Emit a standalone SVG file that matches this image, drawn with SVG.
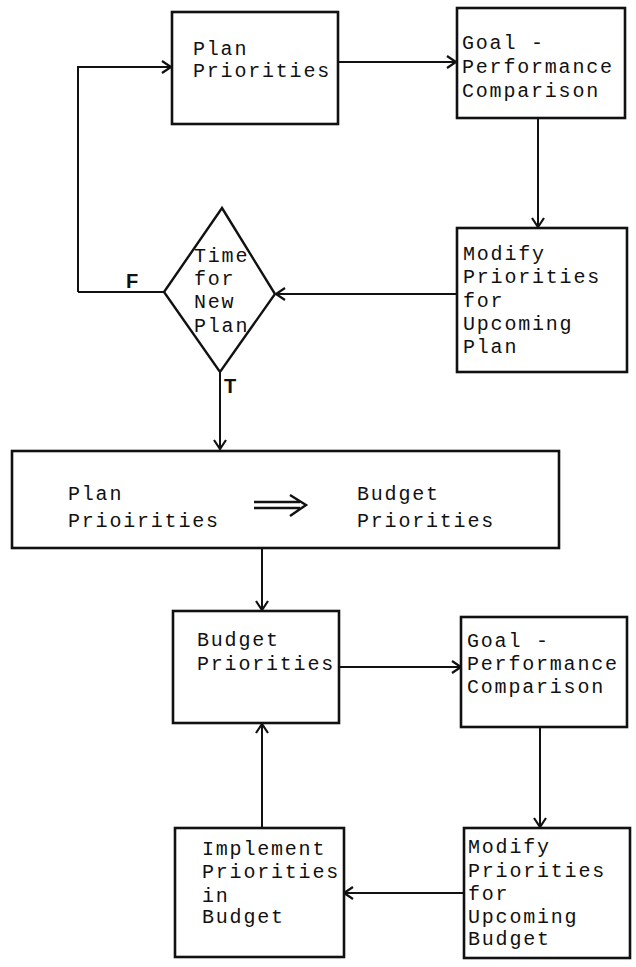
<svg xmlns="http://www.w3.org/2000/svg" width="636" height="967" viewBox="0 0 636 967">
<defs>
<marker id="arr" markerWidth="14" markerHeight="14" viewBox="0 0 14 14" refX="12" refY="7" orient="auto" markerUnits="userSpaceOnUse">
<path d="M3,1 L12,7 L3,13" fill="none" stroke="#111" stroke-width="2.2"/>
</marker>
</defs>
<style>
.box{fill:#fff;stroke:#111;stroke-width:2.6}
.t{font-family:"Liberation Mono","DejaVu Sans Mono",monospace;font-size:20px;letter-spacing:1.8px;fill:#111}
.c{fill:none;stroke:#111;stroke-width:2}
.lbl{font-family:"Liberation Sans",Arial,sans-serif;font-size:20px;font-weight:bold;fill:#111}
</style>
<rect width="636" height="967" fill="#fff"/>
<g id="connectors">
<path class="c" d="M78,292 L78,67 L171,67" marker-end="url(#arr)"/>
<path class="c" d="M338,62 L456,62" marker-end="url(#arr)"/>
<path class="c" d="M538,118 L538,227" marker-end="url(#arr)"/>
<path class="c" d="M457,294 L276,294" marker-end="url(#arr)"/>
<path class="c" d="M164,292 L78,292"/>
<path class="c" d="M220,372 L220,449" marker-end="url(#arr)"/>
<path class="c" d="M262,548 L262,610" marker-end="url(#arr)"/>
<path class="c" d="M339,667 L461,667" marker-end="url(#arr)"/>
<path class="c" d="M540,727 L540,827" marker-end="url(#arr)"/>
<path class="c" d="M464,893 L344,893" marker-end="url(#arr)"/>
<path class="c" d="M262,828 L262,724" marker-end="url(#arr)"/>
<text class="lbl" x="126" y="288">F</text>
<text class="lbl" x="224" y="393">T</text>
</g>
<g id="plan-priorities">
<rect class="box" x="172" y="12" width="166" height="112"/>
<text class="t" x="193" y="55">Plan</text>
<text class="t" x="193" y="77">Priorities</text>
</g>
<g id="goal-performance-1">
<rect class="box" x="457" y="8" width="168" height="110"/>
<text class="t" x="462" y="49">Goal -</text>
<text class="t" x="462" y="73">Performance</text>
<text class="t" x="462" y="97">Comparison</text>
</g>
<g id="modify-plan">
<rect class="box" x="457" y="228" width="170" height="144"/>
<text class="t" x="463" y="260">Modify</text>
<text class="t" x="463" y="283">Priorities</text>
<text class="t" x="463" y="307">for</text>
<text class="t" x="463" y="330">Upcoming</text>
<text class="t" x="463" y="353">Plan</text>
</g>
<g id="decision">
<polygon points="222,208 275,294 220,372 164,292" fill="#fff" stroke="#111" stroke-width="2.4"/>
<text class="t" x="194" y="262">Time</text>
<text class="t" x="194" y="285">for</text>
<text class="t" x="194" y="308">New</text>
<text class="t" x="194" y="332">Plan</text>
</g>
<g id="plan-to-budget">
<rect class="box" x="12" y="451" width="547" height="97"/>
<text class="t" x="68" y="500">Plan</text>
<text class="t" x="68" y="527">Prioirities</text>
<path d="M254,502 L300,502 M254,508 L300,508 M290,495 L306,505 L290,516" fill="none" stroke="#111" stroke-width="2.4"/>
<text class="t" x="357" y="500">Budget</text>
<text class="t" x="357" y="527">Priorities</text>
</g>
<g id="budget-priorities">
<rect class="box" x="173" y="611" width="166" height="112"/>
<text class="t" x="197" y="646">Budget</text>
<text class="t" x="197" y="670">Priorities</text>
</g>
<g id="goal-performance-2">
<rect class="box" x="461" y="617" width="166" height="110"/>
<text class="t" x="467" y="647">Goal -</text>
<text class="t" x="467" y="670">Performance</text>
<text class="t" x="467" y="693">Comparison</text>
</g>
<g id="modify-budget">
<rect class="box" x="464" y="828" width="166" height="130"/>
<text class="t" x="468" y="853">Modify</text>
<text class="t" x="468" y="877">Priorities</text>
<text class="t" x="468" y="900">for</text>
<text class="t" x="468" y="923">Upcoming</text>
<text class="t" x="468" y="945">Budget</text>
</g>
<g id="implement">
<rect class="box" x="175" y="828" width="169" height="129"/>
<text class="t" x="202" y="855">Implement</text>
<text class="t" x="202" y="878">Priorities</text>
<text class="t" x="202" y="902">in</text>
<text class="t" x="202" y="923">Budget</text>
</g>
</svg>
